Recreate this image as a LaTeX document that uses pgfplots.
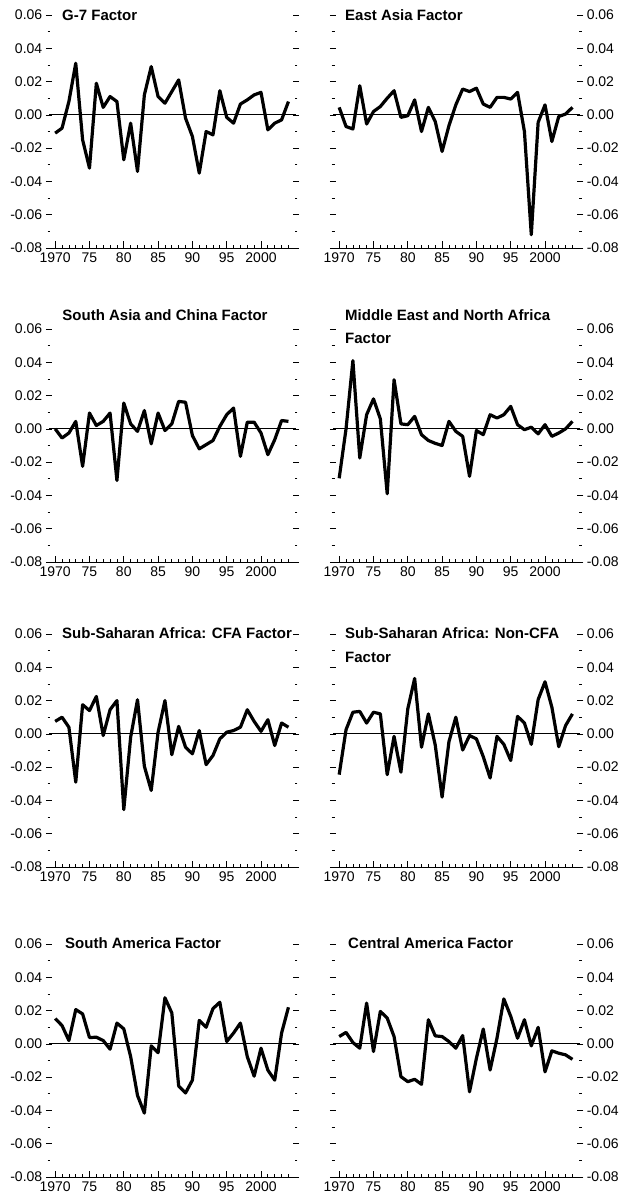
\documentclass[border=0pt]{standalone}
\usepackage{pgfplots}
\usepackage{pgfplotstable}
\pgfplotsset{compat=1.18}
\usepackage{fontspec}
\setmainfont{Liberation Sans}

% common factors, 1970-2004
\pgfplotstableread{
year  g7      ea      sac     mena    cfa     ncfa    sam     cam
1970 -0.011   0.0045  0.000  -0.0297  0.0075 -0.0245  0.0152  0.0044
1971 -0.008  -0.007  -0.0055  0.000   0.010   0.0025  0.011   0.0069
1972  0.008  -0.0085 -0.0025  0.041   0.004   0.013   0.002   0.0008
1973  0.031   0.0175  0.0045 -0.0175 -0.029   0.0135  0.0206 -0.0026
1974 -0.015  -0.0055 -0.0225  0.0085  0.0175  0.0065  0.018   0.0245
1975 -0.032   0.002   0.0095  0.018   0.014   0.013   0.0038 -0.0046
1976  0.019   0.005   0.002   0.006   0.0225  0.012   0.004   0.0195
1977  0.0045  0.010   0.0045 -0.039  -0.001  -0.0245  0.002   0.0155
1978  0.011   0.0145  0.0095  0.0295  0.0145 -0.0015 -0.0032  0.0044
1979  0.008  -0.0015 -0.031   0.003   0.020  -0.023   0.0125 -0.0197
1980 -0.027  -0.0005  0.0155  0.0025 -0.0455  0.015   0.009  -0.0227
1981 -0.005   0.009   0.003   0.0075 -0.002   0.0333 -0.0077 -0.0213
1982 -0.034  -0.010  -0.0015 -0.0035  0.0205 -0.008  -0.031  -0.0243
1983  0.012   0.0045  0.011  -0.007  -0.0195  0.012  -0.0416  0.0145
1984  0.029  -0.004  -0.009  -0.0087 -0.034  -0.0067 -0.0012  0.0048
1985  0.011  -0.022   0.0095 -0.010   0.001  -0.038  -0.0053  0.0044
1986  0.007  -0.0065 -0.001   0.0045  0.020  -0.0047  0.0277  0.0014
1987  0.014   0.006   0.003  -0.0015 -0.0125  0.010   0.0186 -0.0026
1988  0.021   0.0155  0.0165 -0.0045  0.0045 -0.0097 -0.0253  0.005
1989 -0.002   0.014   0.016  -0.0285 -0.008  -0.001  -0.0295 -0.0288
1990 -0.013   0.016  -0.004  -0.001  -0.012  -0.003  -0.0218 -0.0087
1991 -0.035   0.0065 -0.012  -0.0035  0.002  -0.0137  0.0141  0.0089
1992 -0.010   0.0045 -0.0095  0.0085 -0.0185 -0.0265  0.010  -0.0157
1993 -0.012   0.0105 -0.007   0.0065 -0.013  -0.0015  0.0212  0.0034
1994  0.0145  0.0105  0.0015  0.0085 -0.003  -0.0063  0.025   0.027
1995 -0.0015  0.0095  0.0085  0.0135  0.001  -0.016   0.0014  0.0166
1996 -0.005   0.0135  0.0125  0.0025  0.002   0.0105  0.0065  0.0034
1997  0.0065 -0.010  -0.0165 -0.0005  0.004   0.0065  0.0125  0.0145
1998  0.009  -0.072   0.004   0.001   0.0145 -0.0063 -0.0077 -0.0012
1999  0.012  -0.0045  0.004  -0.003   0.0075  0.0206 -0.0194  0.0099
2000  0.0135  0.006  -0.0025  0.0025  0.0015  0.0313 -0.0026 -0.0168
2001 -0.009  -0.016  -0.0155 -0.0045  0.0085  0.016  -0.0158 -0.0042
2002 -0.005  -0.001  -0.0065 -0.0025 -0.007  -0.0077 -0.0218 -0.0056
2003 -0.003   0.0005  0.005   0.000   0.0065  0.005   0.0065 -0.0066
2004  0.008   0.0045  0.0045  0.0045  0.004   0.012   0.022  -0.0093
}\factors

\pgfplotsset{
  factor/.style={
    scale only axis, width=247pt, height=233pt,
    xmin=1969.1, xmax=2005.1, ymin=-0.08, ymax=0.06,
    axis line style={draw=none},
    tick align=center,
    major tick length=6.5pt, minor tick length=3pt,
    xtick={1970,1975,...,2000},
    xticklabels={1970,75,80,85,90,95,2000},
    minor xtick={1971,...,2004},
    ytick={-0.08,-0.06,-0.04,-0.02,0,0.02,0.04,0.06},
    minor ytick={-0.07,-0.05,-0.03,-0.01,0.01,0.03,0.05},
    scaled y ticks=false,
    xtick pos=bottom,
    every major x tick/.append style={yshift=3.25pt},
    every minor x tick/.append style={yshift=1.5pt},
    tick style={black, line width=0.7pt},
    /pgf/number format/assume math mode=true,
    /pgf/number format/fixed,
    /pgf/number format/fixed zerofill,
    /pgf/number format/precision=2,
    tick label style={font=\fontsize{14}{16}\selectfont},
    xticklabel style={yshift=2pt},
    clip mode=individual,
  },
  facline/.style={black, line width=3.2pt, line join=round, no marks},
}
\newcommand{\base}{%
  \draw[line width=0.8pt] (rel axis cs:0,0) -- (rel axis cs:1,0);
  \draw[line width=0.8pt] (axis cs:1969.1,0) -- (axis cs:2005.1,0);}

\begin{document}
\begin{tikzpicture}
\useasboundingbox[fill=white] (0,0) rectangle (624pt,-1198pt);

\begin{axis}[factor, at={(49pt,-248pt)}, anchor=south west]
  \base
  \addplot[facline] table[x=year, y=g7] {\factors};
\end{axis}
\begin{axis}[factor, at={(333pt,-248pt)}, anchor=south west, yticklabel pos=right]
  \base
  \addplot[facline] table[x=year, y=ea] {\factors};
\end{axis}

\begin{axis}[factor, at={(49pt,-562pt)}, anchor=south west]
  \base
  \addplot[facline] table[x=year, y=sac] {\factors};
\end{axis}
\begin{axis}[factor, at={(333pt,-562pt)}, anchor=south west, yticklabel pos=right]
  \base
  \addplot[facline] table[x=year, y=mena] {\factors};
\end{axis}

\begin{axis}[factor, at={(49pt,-867pt)}, anchor=south west]
  \base
  \addplot[facline] table[x=year, y=cfa] {\factors};
\end{axis}
\begin{axis}[factor, at={(333pt,-867pt)}, anchor=south west, yticklabel pos=right]
  \base
  \addplot[facline] table[x=year, y=ncfa] {\factors};
\end{axis}

\begin{axis}[factor, at={(49pt,-1177pt)}, anchor=south west]
  \base
  \addplot[facline] table[x=year, y=sam] {\factors};
\end{axis}
\begin{axis}[factor, at={(333pt,-1177pt)}, anchor=south west, yticklabel pos=right]
  \base
  \addplot[facline] table[x=year, y=cam] {\factors};
\end{axis}

\begin{scope}[every node/.style={inner sep=0pt, font=\fontsize{15}{18}\selectfont\bfseries}]
  \node[anchor=base west] at (62pt,-21pt) {G-7 Factor};
  \node[anchor=base west] at (345pt,-20.5pt) {East Asia Factor};
  \node[anchor=base] at (165pt,-320.5pt) {South Asia and China Factor};
  \node[anchor=base west] at (345pt,-320.5pt) {Middle East and North Africa};
  \node[anchor=base west] at (345pt,-343.5pt) {Factor};
  \node[anchor=base west] at (62pt,-638.5pt) {Sub-Saharan Africa: CFA Factor};
  \node[anchor=base west] at (345pt,-638.5pt) {Sub-Saharan Africa: Non-CFA};
  \node[anchor=base west] at (345pt,-662.5pt) {Factor};
  \node[anchor=base west] at (65pt,-948.5pt) {South America Factor};
  \node[anchor=base west] at (348pt,-948.5pt) {Central America Factor};
\end{scope}
\end{tikzpicture}
\end{document}
